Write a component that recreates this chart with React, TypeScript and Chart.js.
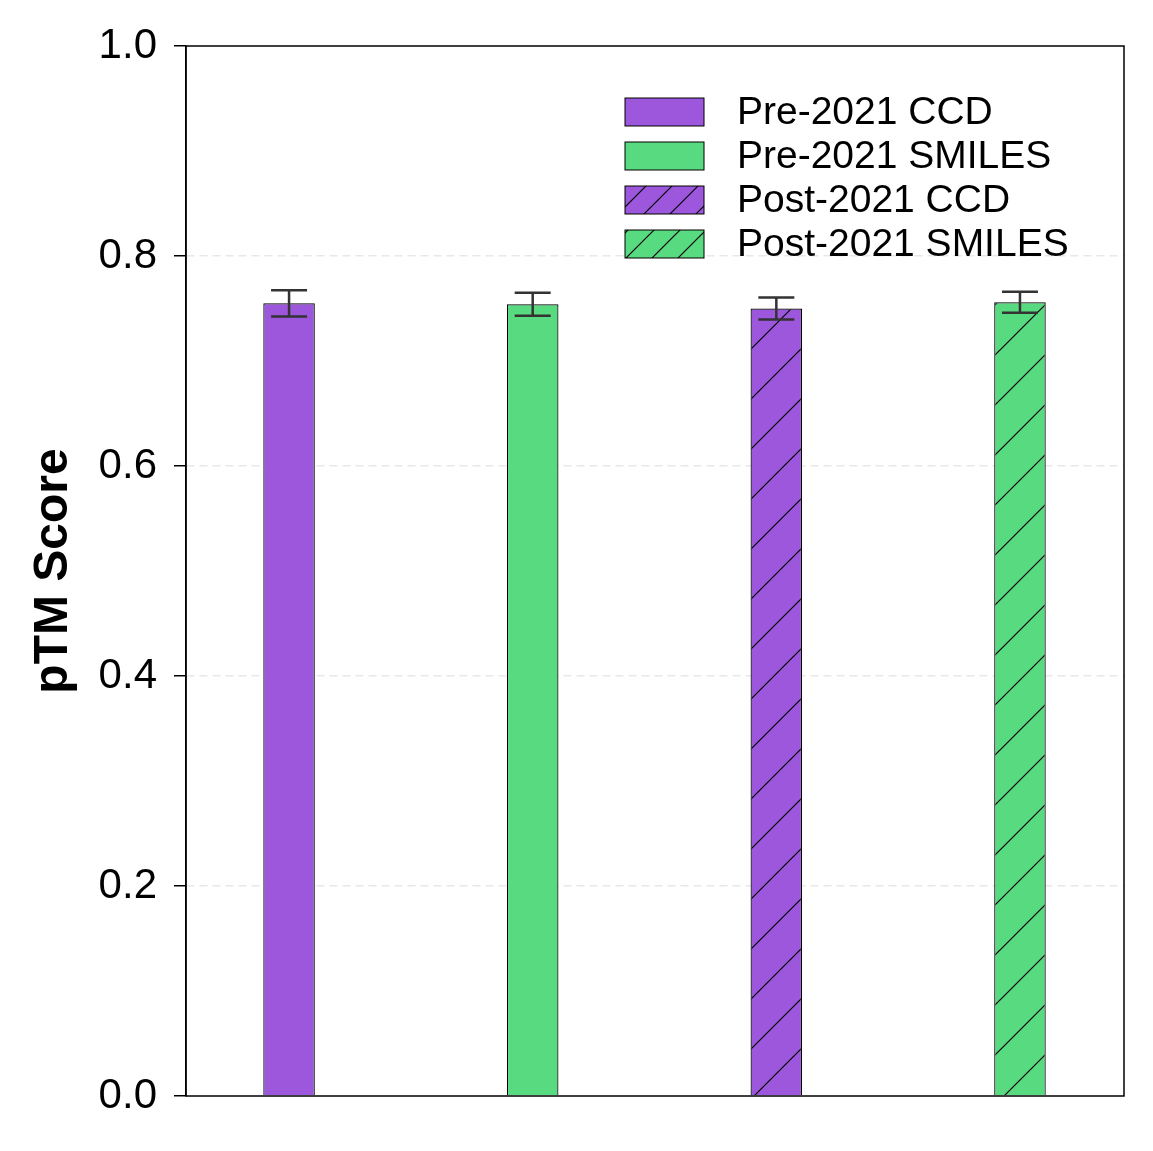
import { useEffect, useRef } from 'react';
import { Chart, registerables } from 'chart.js';

Chart.register(...registerables);

const LABELS = ['Pre-2021 CCD', 'Pre-2021 SMILES', 'Post-2021 CCD', 'Post-2021 SMILES'];
const VALUES = [0.755, 0.754, 0.75, 0.756];
const ERRORS = [0.0125, 0.011, 0.0105, 0.01];
const COLORS = ['#9d57dc', '#58da80', '#9d57dc', '#58da80'];
const HATCHED = [false, false, true, true];
const FONT = '"Liberation Sans", Arial, sans-serif';

function hatch(color: string, size: number) {
  const c = document.createElement('canvas');
  c.width = size;
  c.height = size;
  const g = c.getContext('2d')!;
  g.fillStyle = color;
  g.fillRect(0, 0, size, size);
  g.strokeStyle = '#000';
  g.lineWidth = 1.2;
  g.beginPath();
  g.moveTo(-2, size + 2);
  g.lineTo(size + 2, -2);
  g.moveTo(-2, 2);
  g.lineTo(2, -2);
  g.moveTo(size - 2, size + 2);
  g.lineTo(size + 2, size - 2);
  g.stroke();
  return g.createPattern(c, 'repeat')!;
}

export default function App() {
  const canvasRef = useRef<HTMLCanvasElement | null>(null);

  useEffect(() => {
    document.body.style.margin = '0';
    const canvas = canvasRef.current;
    if (!canvas) return;
    const fills = COLORS.map((c, i) => (HATCHED[i] ? hatch(c, 50) : c));
    const legendFills = COLORS.map((c, i) => (HATCHED[i] ? hatch(c, 26) : c));

    const extras = {
      id: 'extras',
      afterDatasetsDraw(chart: any) {
        const ctx = chart.ctx;
        const meta = chart.getDatasetMeta(0);
        const y = chart.scales.y;
        ctx.save();
        ctx.strokeStyle = '#333';
        ctx.lineWidth = 2.5;
        meta.data.forEach((bar: any, i: number) => {
          const top = y.getPixelForValue(VALUES[i] + ERRORS[i]);
          const bot = y.getPixelForValue(VALUES[i] - ERRORS[i]);
          ctx.beginPath();
          ctx.moveTo(bar.x, top);
          ctx.lineTo(bar.x, bot);
          ctx.moveTo(bar.x - 18, top);
          ctx.lineTo(bar.x + 18, top);
          ctx.moveTo(bar.x - 18, bot);
          ctx.lineTo(bar.x + 18, bot);
          ctx.stroke();
        });
        const a = chart.chartArea;
        ctx.strokeStyle = '#000';
        ctx.lineWidth = 1.5;
        ctx.strokeRect(a.left, a.top, a.right - a.left, a.bottom - a.top);
        // legend
        ctx.font = `39px ${FONT}`;
        ctx.textBaseline = 'middle';
        LABELS.forEach((l, i) => {
          const cy = 112 + i * 44;
          ctx.fillStyle = legendFills[i];
          ctx.fillRect(625, cy - 14, 79, 28);
          ctx.lineWidth = 1;
          ctx.strokeStyle = '#000';
          ctx.strokeRect(625, cy - 14, 79, 28);
          ctx.fillStyle = '#000';
          ctx.fillText(l, 737, cy + 1);
        });
        ctx.restore();
      },
    };

    const chart = new Chart(canvas, {
      type: 'bar',
      data: {
        datasets: [
          {
            data: VALUES.map((v, i) => ({ x: i, y: v })),
            backgroundColor: fills,
            borderColor: '#000',
            borderWidth: 1.2,
            barPercentage: 0.5,
            categoryPercentage: 1,
          },
        ],
      },
      options: {
        animation: false,
        responsive: true,
        maintainAspectRatio: false,
        layout: { padding: { left: 25, top: 46, right: 29, bottom: 0 } },
        plugins: { legend: { display: false }, tooltip: { enabled: false } },
        scales: {
          x: {
            type: 'linear',
            min: -0.423,
            max: 3.427,
            offset: false,
            grid: { display: false },
            ticks: { display: false },
            border: { display: false },
            afterFit: (s: any) => {
              s.height = 55;
            },
          },
          y: {
            min: 0,
            max: 1,
            ticks: {
              stepSize: 0.2,
              color: '#000',
              font: { family: FONT, size: 42 },
              padding: 17,
              callback: (v: any) => Number(v).toFixed(1),
            },
            grid: {
              color: (c: any) =>
                c.tick && (c.tick.value === 0 || c.tick.value === 1) ? 'rgba(0,0,0,0)' : '#e8e8e8',
              lineWidth: 1.5,
              tickColor: '#000',
              tickLength: 12,
              tickBorderDash: [],
              tickWidth: 1.5,
            },
            border: { display: true, color: '#000', width: 1.5, dash: [8, 5] },
            title: {
              display: true,
              text: 'pTM Score',
              color: '#000',
              padding: 0,
              font: { family: FONT, size: 48, weight: 'bold' },
            },
            afterFit: (s: any) => {
              s.width = 161;
            },
          },
        },
      },
      plugins: [extras],
    } as any);
    return () => chart.destroy();
  }, []);

  return (
    <div style={{ position: 'relative', width: 1153, height: 1151 }}>
      <canvas ref={canvasRef} role="img" aria-label="pTM Score by group" />
    </div>
  );
}
